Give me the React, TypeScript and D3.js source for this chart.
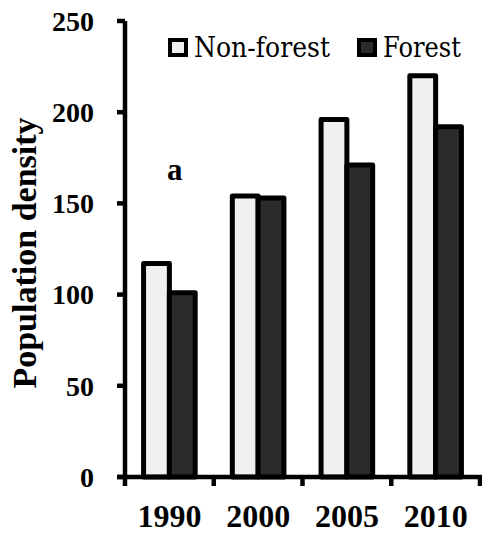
import * as d3 from 'd3';
import React from 'react';

const years = ['1990', '2000', '2005', '2010'];
const series = ['Non-forest', 'Forest'];
const nonForest = [117, 154, 196, 220];
const forest = [101, 153, 171, 192];
const yTicks = [0, 50, 100, 150, 200, 250];

const fills: Record<string, string> = { 'Non-forest': '#f0f0f0', Forest: '#2b2b2b' };
const font = '"Liberation Serif", "Times New Roman", serif';
const legendFont = '"DejaVu Serif", "Liberation Serif", serif';

const W = 482;
const H = 535;

const App: React.FC = () => {
  const x = d3.scaleBand<string>().domain(years).range([125, 480]).padding(0);
  const inner = d3.scaleBand<string>().domain(series).range([0, x.bandwidth()]).paddingInner(0).paddingOuter(0.72);
  const y = d3.scaleLinear().domain([0, 250]).range([477, 21]);

  const values: Record<string, number[]> = { 'Non-forest': nonForest, Forest: forest };
  const sw = 5;

  // tick boundaries between categories
  const bounds = years.map(d => x(d) ?? 0).concat([x.range()[1]]);

  return (
    <div style={{ position: 'absolute', left: 0, top: 0 }}>
      <svg width={W} height={H} style={{ display: 'block', background: '#fff' }}>
        {years.map((yr, i) =>
          series.map(s => {
            const v = values[s][i];
            const x0 = (x(yr) ?? 0) + (inner(s) ?? 0);
            return (
              <rect
                key={yr + s}
                x={x0}
                y={y(v)}
                width={inner.bandwidth()}
                height={y(0) - y(v)}
                fill={fills[s]}
                stroke="#000"
                strokeWidth={sw}
                strokeLinejoin="round"
              />
            );
          })
        )}

        {/* y axis */}
        <line x1={125} x2={125} y1={y(250)} y2={y(0) + 2} stroke="#000" strokeWidth={4.5} />
        {yTicks.map(t => (
          <g key={t}>
            <line x1={117} x2={125} y1={y(t)} y2={y(t)} stroke="#000" strokeWidth={4.5} />
            <text x={94} y={y(t)} dy="0.35em" textAnchor="end" fontFamily={font} fontWeight="bold" fontSize={28}>
              {t}
            </text>
          </g>
        ))}

        {/* x axis */}
        <line x1={117} x2={482} y1={y(0)} y2={y(0)} stroke="#000" strokeWidth={4.5} />
        {bounds.map((b, i) => (
          <line key={i} x1={b} x2={b} y1={y(0)} y2={y(0) + 9} stroke="#000" strokeWidth={4.5} />
        ))}
        {years.map(yr => (
          <text
            key={yr}
            x={(x(yr) ?? 0) + x.bandwidth() / 2}
            y={527}
            textAnchor="middle"
            fontFamily={font}
            fontWeight="bold"
            fontSize={32}
          >
            {yr}
          </text>
        ))}

        <text
          transform={`translate(36,${(y(0) + y(250)) / 2 + 4}) rotate(-90)`}
          textAnchor="middle"
          fontFamily={font}
          fontWeight="bold"
          fontSize={34}
        >
          Population density
        </text>

        <text x={167} y={180} fontFamily={font} fontWeight="bold" fontSize={31}>
          a
        </text>

        {/* legend */}
        {series.map((s, i) => {
          const lx = i === 0 ? 170 : 359;
          return (
            <g key={s}>
              <rect x={lx} y={40} width={16} height={15} fill={fills[s]} stroke="#000" strokeWidth={4} />
              <text
                x={lx + 24}
                y={57}
                fontFamily={legendFont}
                fontSize={27}
                textLength={i === 0 ? 136 : 78}
                lengthAdjust="spacingAndGlyphs"
              >
                {s}
              </text>
            </g>
          );
        })}
      </svg>
    </div>
  );
};

export default App;
